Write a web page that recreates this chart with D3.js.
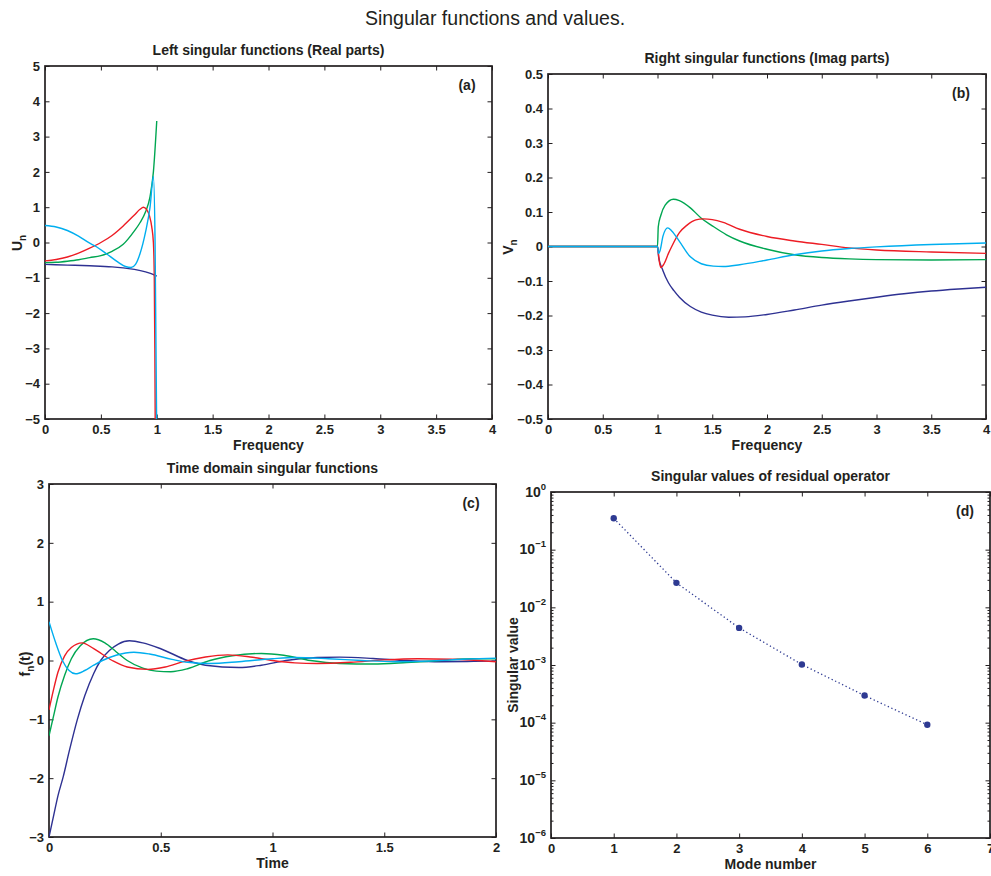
<!DOCTYPE html>
<html>
<head>
<meta charset="utf-8">
<script src="https://cdn.jsdelivr.net/npm/d3@7"></script>
<style>
body { margin: 0; background: #fff; }
svg text { font-family: "Liberation Sans", Arial, Helvetica, sans-serif; fill: #231f20; }
</style>
</head>
<body>
<svg id="fig" width="991" height="876"></svg>
<script>

// line colours, in plotting order (mode 1..4)
var lineColors = ['#2e3192', '#00a651', '#ed1c24', '#00aeef'];

// (a) left singular functions, real parts  [frequency, U_n]
var aBlue  = [[0,-0.62],[0.2,-0.64],[0.4,-0.66],[0.6,-0.69],[0.7,-0.72],[0.8,-0.76],[0.9,-0.83],[0.95,-0.88],[1.0,-0.95]];
var aGreen = [[0,-0.57],[0.1,-0.56],[0.2,-0.53],[0.3,-0.49],[0.4,-0.43],[0.5,-0.37],[0.55,-0.32],[0.6,-0.25],[0.7,-0.05],[0.8,0.33],[0.85,0.56],[0.9,0.87],[0.94,1.3],[0.97,2.0],[1.0,3.44]];
var aRed   = [[0,-0.52],[0.1,-0.48],[0.2,-0.41],[0.3,-0.3],[0.4,-0.16],[0.5,0.0],[0.6,0.2],[0.7,0.47],[0.8,0.78],[0.85,0.94],[0.88,1.0],[0.91,0.93],[0.935,0.75],[0.955,0.45],[0.97,0.0],[0.978,-1.0],[0.983,-3.0],[0.987,-5.5]];
var aCyan  = [[0,0.48],[0.1,0.44],[0.2,0.34],[0.3,0.18],[0.4,-0.02],[0.46,-0.12],[0.55,-0.32],[0.65,-0.55],[0.72,-0.68],[0.77,-0.71],[0.81,-0.62],[0.85,-0.32],[0.9,0.3],[0.94,1.0],[0.97,1.87],[0.985,0.0],[1.0,-5.5]];
var aTicksX = [0,0.5,1,1.5,2,2.5,3,3.5,4];
var aTicksY = [-5,-4,-3,-2,-1,0,1,2,3,4,5];

// (b) right singular functions, imag parts  [frequency, V_n]
var bBlue  = [[0,0],[1,0],[1.01,-0.03],[1.05,-0.07],[1.1,-0.105],[1.15,-0.128],[1.2,-0.147],[1.3,-0.174],[1.4,-0.19],[1.5,-0.199],[1.65,-0.205],[1.8,-0.204],[2.0,-0.197],[2.25,-0.184],[2.5,-0.17],[2.75,-0.158],[3.0,-0.147],[3.25,-0.137],[3.5,-0.129],[3.75,-0.123],[4.0,-0.118]];
var bGreen = [[0,0],[1,0],[1.007,0.057],[1.03,0.09],[1.07,0.12],[1.145,0.137],[1.2,0.133],[1.3,0.112],[1.4,0.082],[1.5,0.06],[1.63,0.034],[1.75,0.016],[2.0,-0.008],[2.25,-0.024],[2.5,-0.032],[2.75,-0.036],[3.0,-0.038],[3.5,-0.039],[4.0,-0.038]];
var bRed   = [[0,0],[1,0],[1.015,-0.04],[1.03,-0.061],[1.06,-0.05],[1.1,-0.02],[1.13,0],[1.2,0.04],[1.27,0.062],[1.35,0.077],[1.42,0.08],[1.5,0.078],[1.6,0.07],[1.75,0.05],[2.0,0.029],[2.25,0.016],[2.5,0.006],[2.75,-0.004],[3.0,-0.01],[3.5,-0.016],[4.0,-0.02]];
var bCyan  = [[0,0],[1,0],[1.01,-0.02],[1.025,-0.01],[1.05,0.03],[1.093,0.054],[1.13,0.045],[1.2,0.015],[1.3,-0.03],[1.4,-0.05],[1.51,-0.057],[1.6,-0.058],[1.75,-0.053],[2.0,-0.039],[2.25,-0.024],[2.5,-0.013],[2.75,-0.006],[3.0,-0.001],[3.5,0.006],[4.0,0.01]];
var bTicksX = [0,0.5,1,1.5,2,2.5,3,3.5,4];
var bTicksY = [-0.5,-0.4,-0.3,-0.2,-0.1,0,0.1,0.2,0.3,0.4,0.5];

// (c) time domain singular functions  [time, f_n(t)]
var cBlue  = [[0,-3.0],[0.02,-2.65],[0.04,-2.3],[0.064,-1.97],[0.09,-1.55],[0.127,-1.0],[0.16,-0.6],[0.2,-0.22],[0.231,0],[0.27,0.17],[0.31,0.28],[0.36,0.335],[0.42,0.3],[0.5,0.2],[0.62,0.0],[0.7,-0.08],[0.85,-0.12],[0.95,-0.08],[1.06,0],[1.2,0.05],[1.3,0.057],[1.45,0.035],[1.6,0],[1.75,-0.02],[1.9,-0.015],[2.0,-0.01]];
var cGreen = [[0,-1.28],[0.02,-0.95],[0.04,-0.62],[0.07,-0.25],[0.1,0.03],[0.14,0.25],[0.198,0.37],[0.25,0.3],[0.3,0.15],[0.35,0.0],[0.42,-0.13],[0.48,-0.18],[0.545,-0.19],[0.62,-0.14],[0.72,0.0],[0.82,0.08],[0.95,0.12],[1.05,0.09],[1.17,0.0],[1.3,-0.05],[1.45,-0.06],[1.6,-0.035],[1.75,0.0],[1.9,0.03],[2.0,0.03]];
var cRed   = [[0,-0.84],[0.02,-0.5],[0.04,-0.2],[0.07,0.08],[0.1,0.22],[0.149,0.3],[0.2,0.2],[0.283,0.0],[0.35,-0.11],[0.44,-0.15],[0.52,-0.11],[0.6,-0.02],[0.7,0.06],[0.8,0.095],[0.9,0.06],[1.0,0.0],[1.1,-0.04],[1.2,-0.05],[1.35,-0.03],[1.5,0.01],[1.65,0.03],[1.8,0.02],[2.0,-0.02]];
var cCyan  = [[0,0.66],[0.03,0.3],[0.06,0.0],[0.09,-0.17],[0.119,-0.226],[0.16,-0.17],[0.2,-0.08],[0.239,0.0],[0.3,0.09],[0.38,0.14],[0.45,0.11],[0.55,0.02],[0.62,-0.03],[0.72,-0.05],[0.85,-0.02],[1.0,0.03],[1.1,0.05],[1.25,0.03],[1.4,0.0],[1.55,-0.02],[1.7,-0.01],[1.85,0.02],[2.0,0.04]];
var cTicksX = [0,0.5,1,1.5,2];
var cTicksY = [-3,-2,-1,0,1,2,3];

// (d) singular values of residual operator
var dModes  = [1,2,3,4,5,6];
var dValues = [0.35,0.0266,0.0044,0.00102,0.000295,0.000092];
var dTicksX = [0,1,2,3,4,5,6,7];
var dTicksY = [1e-6,1e-5,1e-4,1e-3,1e-2,1e-1,1];
var dExponents = ['\u22126','\u22125','\u22124','\u22123','\u22122','\u22121','0'];


var svg = d3.select('#fig');

svg.append('text')
    .attr('x', 495)
    .attr('y', 25)
    .attr('text-anchor', 'middle')
    .style('font-size', '19.5px')
    .text('Singular functions and values.');

function fmt(d) {
    if (Math.abs(d) < 1e-9) return '0';
    return (d < 0 ? '\u2212' : '') + (+Math.abs(d).toFixed(2));
}

function styleAxis(sel) {
    sel.select('.domain').remove();
    sel.attr('font-family', null).attr('font-size', null);
    sel.selectAll('.tick line').attr('stroke', '#231f20').attr('stroke-width', 1);
    sel.selectAll('.tick text')
        .style('font-size', '13px')
        .style('font-weight', 'bold');
}

// draws box, ticks, titles for one panel and returns its plotting group
function makePanel(id, box, x, y, xt, yt, title, tag, xlab) {
    var g = svg.append('g');

    g.append('clipPath').attr('id', 'clip' + id)
        .append('rect')
        .attr('x', box.left).attr('y', box.top)
        .attr('width', box.right - box.left)
        .attr('height', box.bottom - box.top);

    g.append('g')
        .attr('transform', 'translate(0,' + box.bottom + ')')
        .call(d3.axisBottom(x).tickValues(xt).tickSize(-4.5).tickPadding(6).tickFormat(fmt))
        .call(styleAxis);
    g.append('g')
        .attr('transform', 'translate(0,' + box.top + ')')
        .call(d3.axisTop(x).tickValues(xt).tickSize(-4.5).tickFormat(''))
        .call(styleAxis);
    var left = g.append('g')
        .attr('transform', 'translate(' + box.left + ',0)')
        .call(d3.axisLeft(y).tickValues(yt).tickSize(-4.5).tickPadding(5).tickFormat(fmt))
        .call(styleAxis);
    g.append('g')
        .attr('transform', 'translate(' + box.right + ',0)')
        .call(d3.axisRight(y).tickValues(yt).tickSize(-4.5).tickFormat(''))
        .call(styleAxis);

    g.append('rect')
        .attr('x', box.left).attr('y', box.top)
        .attr('width', box.right - box.left)
        .attr('height', box.bottom - box.top)
        .attr('fill', 'none')
        .attr('stroke', '#231f20')
        .attr('stroke-width', 1.7);

    g.append('text')
        .attr('x', (box.left + box.right) / 2)
        .attr('y', box.top - 11)
        .attr('text-anchor', 'middle')
        .style('font-size', '14px').style('font-weight', 'bold')
        .text(title);

    g.append('text')
        .attr('x', box.right - 25)
        .attr('y', box.top + 24)
        .attr('text-anchor', 'middle')
        .style('font-size', '14px').style('font-weight', 'bold')
        .text(tag);

    g.append('text')
        .attr('x', (box.left + box.right) / 2)
        .attr('y', box.bottom + 31)
        .attr('text-anchor', 'middle')
        .style('font-size', '14px').style('font-weight', 'bold')
        .text(xlab);

    g.left = left;
    return g;
}

function yLabel(g, xPos, yPos, parts) {
    var t = g.append('text')
        .attr('transform', 'translate(' + xPos + ',' + yPos + ') rotate(-90)')
        .attr('text-anchor', 'middle')
        .style('font-size', '14px').style('font-weight', 'bold');
    parts.forEach(function (p) {
        t.append('tspan')
            .attr('dy', p.dy || 0)
            .style('font-size', p.size || '14px')
            .text(p.text);
    });
}

function drawLines(g, id, x, y, series) {
    var line = d3.line()
        .x(function (d) { return x(d[0]); })
        .y(function (d) { return y(d[1]); })
        .curve(d3.curveMonotoneX);
    series.forEach(function (s, i) {
        g.append('path')
            .datum(s)
            .attr('clip-path', 'url(#clip' + id + ')')
            .attr('fill', 'none')
            .attr('stroke', lineColors[i])
            .attr('stroke-width', 1.4)
            .attr('d', line);
    });
}


// ---- (a)
var boxA = {left: 45, right: 492, top: 66, bottom: 419};
var xA = d3.scaleLinear().domain([0, 4]).range([boxA.left, boxA.right]);
var yA = d3.scaleLinear().domain([-5, 5]).range([boxA.bottom, boxA.top]);
var gA = makePanel('A', boxA, xA, yA, aTicksX, aTicksY, 'Left singular functions (Real parts)', '(a)', 'Frequency');
drawLines(gA, 'A', xA, yA, [aBlue, aGreen, aRed, aCyan]);
yLabel(gA, 22, 243, [{text: 'U'}, {text: 'n', dy: 4, size: '10px'}]);

// ---- (b)
var boxB = {left: 548, right: 986, top: 74, bottom: 419};
var xB = d3.scaleLinear().domain([0, 4]).range([boxB.left, boxB.right]);
var yB = d3.scaleLinear().domain([-0.5, 0.5]).range([boxB.bottom, boxB.top]);
var gB = makePanel('B', boxB, xB, yB, bTicksX, bTicksY, 'Right singular functions (Imag parts)', '(b)', 'Frequency');
drawLines(gB, 'B', xB, yB, [bBlue, bGreen, bRed, bCyan]);
yLabel(gB, 513, 247, [{text: 'V'}, {text: 'n', dy: 4, size: '10px'}]);

// ---- (c)
var boxC = {left: 49, right: 496, top: 484, bottom: 837};
var xC = d3.scaleLinear().domain([0, 2]).range([boxC.left, boxC.right]);
var yC = d3.scaleLinear().domain([-3, 3]).range([boxC.bottom, boxC.top]);
var gC = makePanel('C', boxC, xC, yC, cTicksX, cTicksY, 'Time domain singular functions', '(c)', 'Time');
drawLines(gC, 'C', xC, yC, [cBlue, cGreen, cRed, cCyan]);
yLabel(gC, 30, 664, [{text: 'f'}, {text: 'n', dy: 4, size: '10px'}, {text: '(t)', dy: -4}]);

// ---- (d)
var boxD = {left: 551, right: 990, top: 492, bottom: 838};
var xD = d3.scaleLinear().domain([0, 7]).range([boxD.left, boxD.right]);
var yD = d3.scaleLog().domain([1e-6, 1]).range([boxD.bottom, boxD.top]);
var gD = makePanel('D', boxD, xD, yD, dTicksX, dTicksY, 'Singular values of residual operator', '(d)', 'Mode number');

// log labels as 10 with superscript exponent
gD.left.selectAll('.tick text').each(function (d, i) {
    var t = d3.select(this);
    t.text('');
    t.append('tspan').style('font-size', '14px').text('10');
    t.append('tspan').attr('dy', '-7').style('font-size', '9.5px').text(dExponents[i]);
});

// minor ticks of the log axis
var minorD = [];
dTicksY.slice(0, -1).forEach(function (v) {
    for (var m = 2; m <= 9; m++) minorD.push(v * m);
});
gD.append('g')
    .attr('transform', 'translate(' + boxD.left + ',0)')
    .call(d3.axisLeft(yD).tickValues(minorD).tickSize(-2.5).tickFormat(''))
    .call(styleAxis);
gD.append('g')
    .attr('transform', 'translate(' + boxD.right + ',0)')
    .call(d3.axisRight(yD).tickValues(minorD).tickSize(-2.5).tickFormat(''))
    .call(styleAxis);

var svPoints = dModes.map(function (m, i) { return [m, dValues[i]]; });
gD.append('path')
    .datum(svPoints)
    .attr('fill', 'none')
    .attr('stroke', '#2e3a92')
    .attr('stroke-width', 1.3)
    .attr('stroke-dasharray', '1.3,2.6')
    .attr('d', d3.line().x(function (d) { return xD(d[0]); }).y(function (d) { return yD(d[1]); }));
gD.selectAll('circle')
    .data(svPoints)
    .enter().append('circle')
    .attr('cx', function (d) { return xD(d[0]); })
    .attr('cy', function (d) { return yD(d[1]); })
    .attr('r', 3.2)
    .attr('fill', '#2e3a92');
yLabel(gD, 518, 665, [{text: 'Singular value'}]);

</script>
</body>
</html>
